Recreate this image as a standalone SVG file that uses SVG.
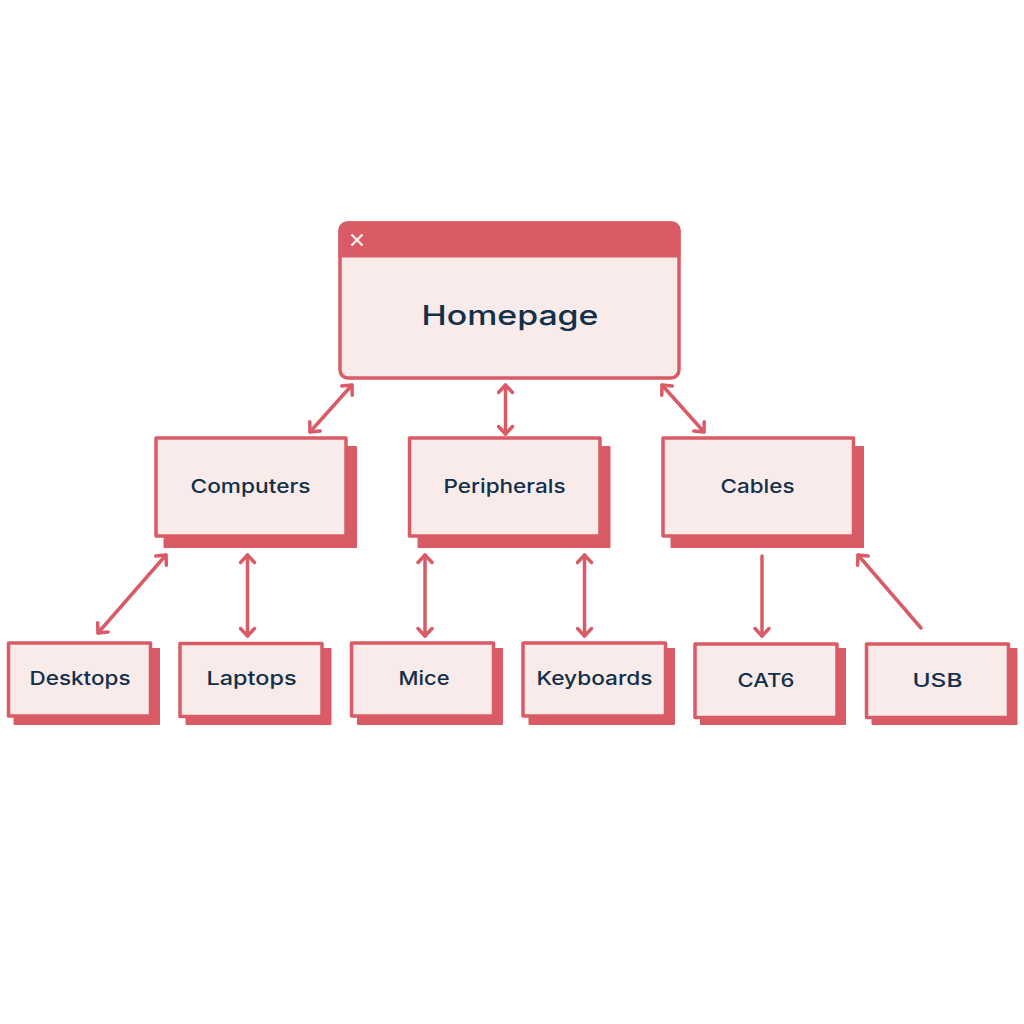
<svg xmlns="http://www.w3.org/2000/svg" width="1024" height="1024" viewBox="0 0 1024 1024">
<defs>
<style>
.box{fill:#f9ebea;stroke:#d95b66;stroke-width:3.5;stroke-linejoin:round}
.sh{fill:#d95b66;stroke:#d95b66;stroke-width:1;stroke-linejoin:round}
.t{font-family:"Inter","Liberation Sans",sans-serif;font-size:19px;font-weight:500;fill:#12304a;text-anchor:start}
.c{fill:none;stroke:#d95b66;stroke-width:3.5;stroke-linecap:round;stroke-linejoin:round}
</style>
<marker id="a" markerUnits="userSpaceOnUse" viewBox="-14 -9 16 18" refX="0" refY="0" markerWidth="16" markerHeight="18" orient="auto-start-reverse">
<path d="M-7.500 -7L0 0L-7.500 7" fill="none" stroke="#d95b66" stroke-width="3.500" stroke-linecap="round" stroke-linejoin="round"/>
</marker>
</defs>
<rect width="1024" height="1024" fill="#fff"/>
<g id="connectors">
<path class="c" d="M352 385L310 432" marker-start="url(#a)" marker-end="url(#a)"/>
<path class="c" d="M505.500 385V434" marker-start="url(#a)" marker-end="url(#a)"/>
<path class="c" d="M662 385L704 432" marker-start="url(#a)" marker-end="url(#a)"/>
<path class="c" d="M166 555L98 633" marker-start="url(#a)" marker-end="url(#a)"/>
<path class="c" d="M247.500 555V636" marker-start="url(#a)" marker-end="url(#a)"/>
<path class="c" d="M425 555V636" marker-start="url(#a)" marker-end="url(#a)"/>
<path class="c" d="M584.500 555V636" marker-start="url(#a)" marker-end="url(#a)"/>
<path class="c" d="M762 556V636" marker-end="url(#a)"/>
<path class="c" d="M921 628L858 555" marker-end="url(#a)"/>
</g>
<g id="homepage">
<rect class="box" x="340" y="223" width="339" height="155" rx="8"/>
<path d="M338.500 257.500V230a8.500 8.500 0 0 1 8.500-8.500H672a8.500 8.500 0 0 1 8.500 8.500V257.500Z" fill="#d95b66"/>
<path d="M351.500 234.500L362.500 245.500M362.500 234.500L351.500 245.500" fill="none" stroke="#f9ebea" stroke-width="2.400"/>
<text class="t" x="421.500" y="325" style="font-size:27.500px" textLength="177" lengthAdjust="spacingAndGlyphs">Homepage</text>
</g>
<g id="computers">
<rect class="sh" x="164" y="446.500" width="192.500" height="101"/>
<rect class="box" x="156" y="438" width="190" height="98"/>
<text class="t" x="190.500" y="493" textLength="120" lengthAdjust="spacingAndGlyphs">Computers</text>
</g>
<g id="peripherals">
<rect class="sh" x="418" y="446.500" width="192" height="101"/>
<rect class="box" x="409.500" y="438" width="190.500" height="98"/>
<text class="t" x="443.500" y="493" textLength="122" lengthAdjust="spacingAndGlyphs">Peripherals</text>
</g>
<g id="cables">
<rect class="sh" x="671" y="446.500" width="192.500" height="101"/>
<rect class="box" x="663" y="438" width="190.500" height="98"/>
<text class="t" x="720.500" y="493" textLength="74" lengthAdjust="spacingAndGlyphs">Cables</text>
</g>
<g id="desktops">
<rect class="sh" x="14" y="648.500" width="145.500" height="76"/>
<rect class="box" x="8.500" y="643" width="142" height="73"/>
<text class="t" x="29.500" y="685" textLength="101" lengthAdjust="spacingAndGlyphs">Desktops</text>
</g>
<g id="laptops">
<rect class="sh" x="186" y="648.500" width="145" height="76"/>
<rect class="box" x="180" y="643.500" width="142" height="73"/>
<text class="t" x="206.500" y="685" textLength="90" lengthAdjust="spacingAndGlyphs">Laptops</text>
</g>
<g id="mice">
<rect class="sh" x="357.500" y="648.500" width="145" height="76"/>
<rect class="box" x="351.500" y="643" width="142" height="73"/>
<text class="t" x="398.500" y="685" textLength="51" lengthAdjust="spacingAndGlyphs">Mice</text>
</g>
<g id="keyboards">
<rect class="sh" x="529" y="648.500" width="145.500" height="76"/>
<rect class="box" x="523" y="643" width="142.500" height="73"/>
<text class="t" x="536.500" y="685" textLength="116" lengthAdjust="spacingAndGlyphs">Keyboards</text>
</g>
<g id="cat6">
<rect class="sh" x="700.500" y="648.500" width="145" height="76"/>
<rect class="box" x="695" y="644" width="142" height="73.500"/>
<text class="t" x="737.500" y="687" textLength="57" lengthAdjust="spacingAndGlyphs">CAT6</text>
</g>
<g id="usb">
<rect class="sh" x="872" y="648.500" width="145" height="76"/>
<rect class="box" x="866.500" y="644" width="142" height="73.500"/>
<text class="t" x="912.500" y="687" textLength="50" lengthAdjust="spacingAndGlyphs">USB</text>
</g>
</svg>
